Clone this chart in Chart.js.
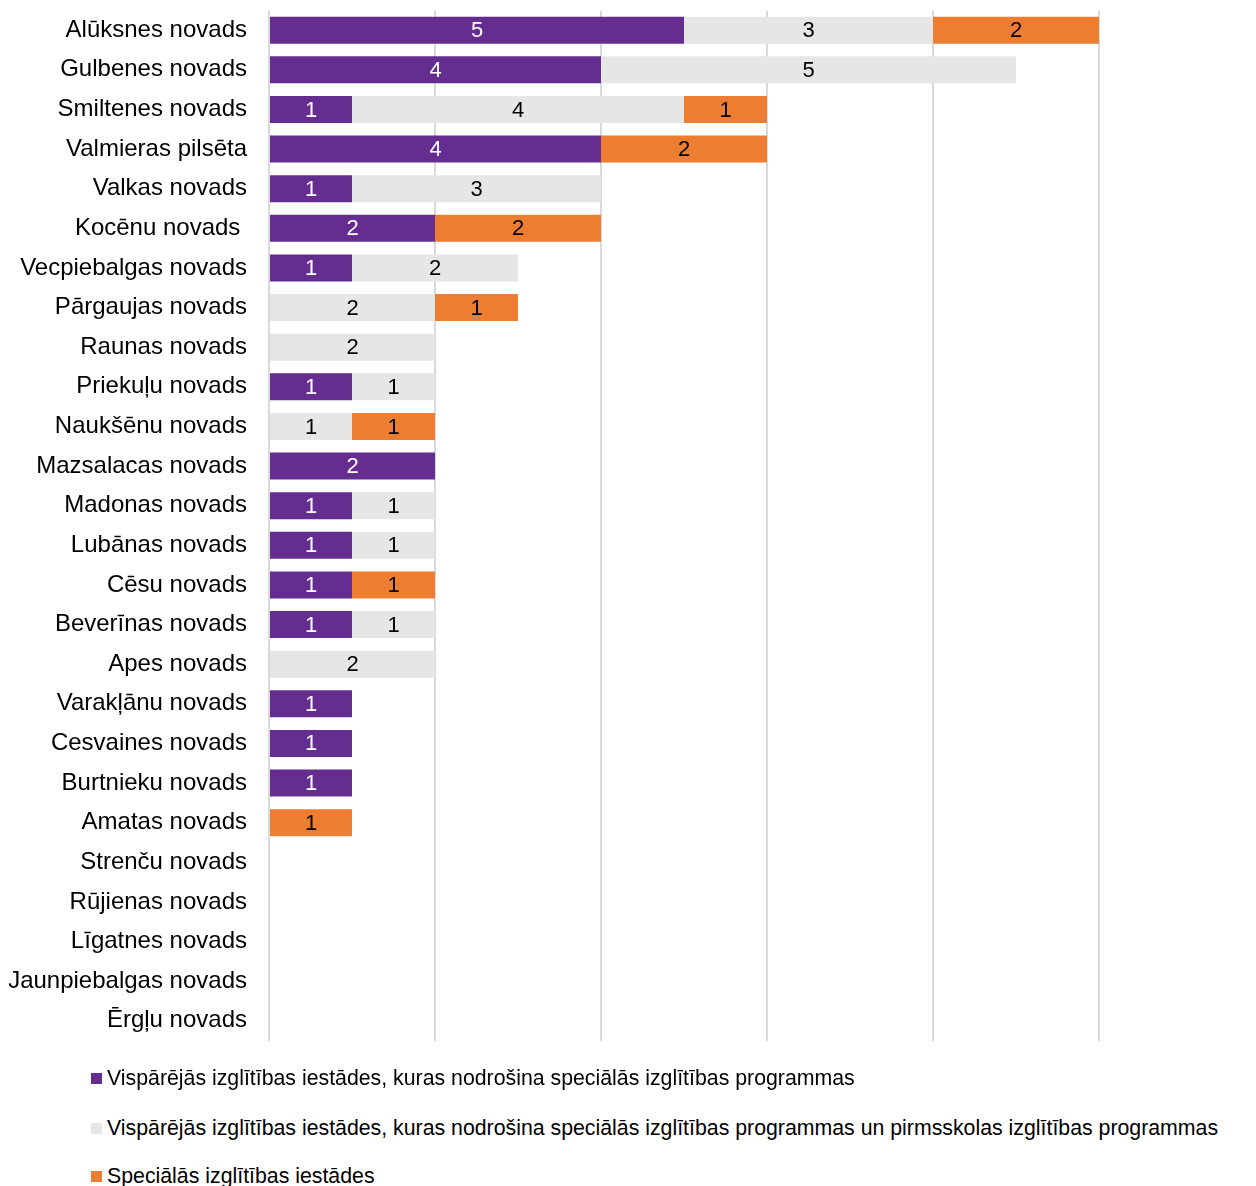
<!DOCTYPE html>
<html>
<head>
<meta charset="utf-8">
<script src="https://cdn.jsdelivr.net/npm/chart.js@4/dist/chart.umd.min.js"></script>
<style>
  html, body { margin: 0; padding: 0; background: #fff; }
  body { width: 1256px; height: 1186px; position: relative; overflow: hidden; font-family: 'Liberation Sans', Arial, sans-serif; }
  #wrap { position: absolute; left: 0; top: -26px; width: 1256px; height: 1103px; }
  .leg { position: absolute; left: 91px; height: 24px; line-height: 24px; font-size: 21.3px; color: #000; white-space: nowrap; }
  .leg .sw { position: absolute; left: 0; top: 7px; width: 11px; height: 11px; }
  .leg .tx { position: absolute; left: 16px; top: 0; }
</style>
</head>
<body>
<div id="wrap"><canvas id="c"></canvas></div>
<div id="legend"></div>
<script>
const categories = [
  "Alūksnes novads", "Gulbenes novads", "Smiltenes novads", "Valmieras pilsēta",
  "Valkas novads", "Kocēnu novads ", "Vecpiebalgas novads", "Pārgaujas novads",
  "Raunas novads", "Priekuļu novads", "Naukšēnu novads", "Mazsalacas novads",
  "Madonas novads", "Lubānas novads", "Cēsu novads", "Beverīnas novads",
  "Apes novads", "Varakļānu novads", "Cesvaines novads", "Burtnieku novads",
  "Amatas novads", "Strenču novads", "Rūjienas novads", "Līgatnes novads",
  "Jaunpiebalgas novads", "Ērgļu novads"
];
const seriesNames = [
  "Vispārējās izglītības iestādes, kuras nodrošina speciālās izglītības programmas",
  "Vispārējās izglītības iestādes, kuras nodrošina speciālās izglītības programmas un pirmsskolas izglītības programmas",
  "Speciālās izglītības iestādes"
];
const generalSpecial = [5,4,1,4,1,2,1,0,0,1,0,2,1,1,1,1,0,1,1,1,0,0,0,0,0,0];
const generalSpecialPreschool = [3,5,4,0,3,0,2,2,2,1,1,0,1,1,0,1,2,0,0,0,0,0,0,0,0,0];
const specialInstitutions = [2,0,1,2,0,2,0,1,0,0,1,0,0,0,1,0,0,0,0,0,1,0,0,0,0,0];
const xTicks = [0,2,4,6,8,10];

const colors = ["#662d91", "#e6e6e6", "#ed7d31"];
const labelColors = ["#ffffff", "#000000", "#000000"];
const seriesData = [generalSpecial, generalSpecialPreschool, specialInstitutions];

const valueLabels = {
  id: 'valueLabels',
  afterDatasetsDraw(chart) {
    const ctx = chart.ctx;
    ctx.save();
    ctx.font = "22px 'Liberation Sans', Arial, sans-serif";
    ctx.textAlign = 'center';
    ctx.textBaseline = 'middle';
    chart.data.datasets.forEach((ds, di) => {
      const meta = chart.getDatasetMeta(di);
      meta.data.forEach((el, i) => {
        const v = ds.data[i];
        if (!v) return;
        const p = el.getProps(['x', 'y', 'base'], true);
        ctx.fillStyle = labelColors[di];
        ctx.fillText(String(v), (p.x + p.base) / 2, p.y + 1);
      });
    });
    ctx.restore();
  }
};

new Chart(document.getElementById('c'), {
  type: 'bar',
  data: {
    labels: categories,
    datasets: seriesNames.map((n, i) => ({
      label: n,
      data: seriesData[i],
      backgroundColor: colors[i],
      borderWidth: 0,
      categoryPercentage: 1,
      barPercentage: 0.68
    }))
  },
  options: {
    indexAxis: 'y',
    responsive: true,
    maintainAspectRatio: false,
    animation: false,
    layout: { padding: { left: 0, right: 157, top: 9, bottom: 5 } },
    plugins: { legend: { display: false }, tooltip: { enabled: false } },
    scales: {
      x: {
        stacked: true,
        min: 0, max: 10,
        afterBuildTicks(scale) { scale.ticks = xTicks.map(v => ({ value: v })); },
        ticks: { display: false },
        border: { display: false },
        grid: { color: '#d9d9d9', lineWidth: 2, drawTicks: false }
      },
      y: {
        stacked: true,
        border: { display: false },
        grid: { display: false, drawTicks: false },
        ticks: {
          padding: 22,
          color: '#000',
          font: { family: "'Liberation Sans', Arial, sans-serif", size: 24 },
          autoSkip: false
        },
        afterFit(scale) { scale.width = 269; }
      }
    }
  },
  plugins: [valueLabels]
});

const legendTops = [1066, 1116, 1164];
const legendEl = document.getElementById('legend');
seriesNames.forEach((n, i) => {
  const d = document.createElement('div');
  d.className = 'leg';
  d.style.top = legendTops[i] + 'px';
  const sw = document.createElement('span');
  sw.className = 'sw';
  sw.style.background = colors[i];
  const tx = document.createElement('span');
  tx.className = 'tx';
  tx.textContent = n;
  d.appendChild(sw); d.appendChild(tx);
  legendEl.appendChild(d);
});
</script>
</body>
</html>
